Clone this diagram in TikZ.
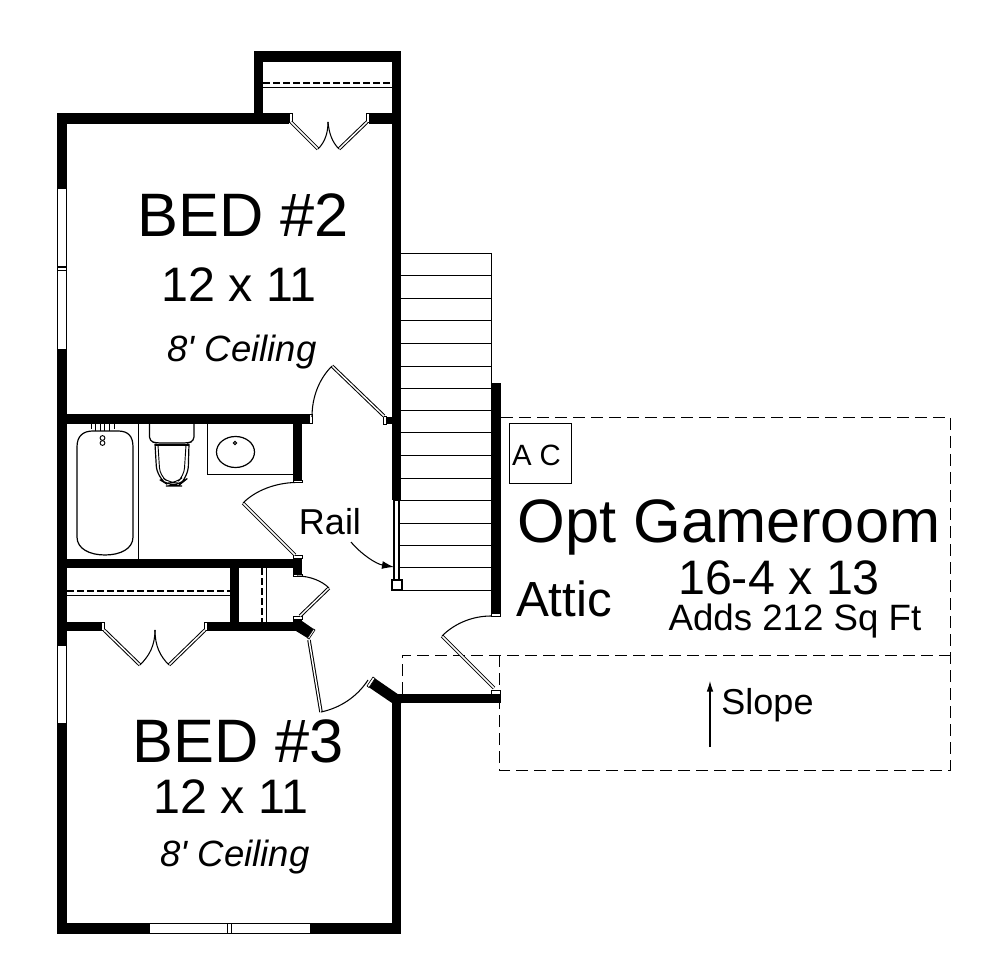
\documentclass[tikz,border=0pt]{standalone}
\usepackage{fontspec}
\newfontfamily\lib{Liberation Sans}
\setmainfont{Liberation Sans}
\usetikzlibrary{arrows.meta}
\tikzset{
 wall/.style={fill=black,draw=none},
 jamb/.style={fill=white,draw=black,line width=.5pt},
 hairline/.style={draw=black,line width=.7pt},
 fine/.style={draw=black,line width=.45pt},
 leaf/.style={draw=black,line width=2.6pt,postaction={draw=white,line width=1.1pt}},
 swing/.style={draw=black,line width=.8pt},
 dashline/.style={draw=black,line width=.7pt,dash pattern=on 9pt off 4.5pt},
 roddash/.style={draw=black,line width=.8pt,dash pattern=on 5pt off 2.5pt},
 txt/.style={inner sep=0pt,anchor=base,text=black},
}
\begin{document}
\begin{tikzpicture}[x=.75pt,y=-.75pt]
\useasboundingbox (0,0) rectangle (1000,962);
\fill[white] (0,0) rectangle (1000,962);
% dashed gameroom
\draw[dashline] (501,417) -- (950,417) -- (950,770) -- (499,770) -- (499,703);
\draw[dashline] (402,694) -- (402,655) -- (950,655);
\draw[dashline] (499,655) -- (499,690);
% stairs
\foreach \y in {253,275.5,298,320.5,343,366,388,410,432,455,478,500,523,545,567,590}{\draw[hairline] (399,\y) -- (491,\y);}
\draw[fine] (491,253) -- (491,383);
% walls
\fill[wall] (57,113) rectangle (254,124);
\fill[wall] (254,51) rectangle (263,124);
\fill[wall] (254,51) rectangle (401,62);
\fill[wall] (392,51) rectangle (401,500);
\fill[wall] (263,113) rectangle (289,124);
\fill[wall] (369,113) rectangle (392,124);
\fill[wall] (57,113) rectangle (67,934);
\fill[wall] (57,923) rectangle (401,934);
\fill[wall] (392,696) rectangle (401,934);
\fill[wall] (392,694) rectangle (501,703);
\fill[wall] (491,383) rectangle (501,613);
\fill[wall] (57,414) rectangle (309,424);
\fill[wall] (293,414) rectangle (302,480);
\fill[wall] (57,559) rectangle (302,568);
\fill[wall] (293,558) rectangle (302,576);
\fill[wall] (230,568) rectangle (239,622);
\fill[wall] (57,622) rectangle (101,631);
\fill[wall] (207,622) rectangle (302,631);
\fill[wall] (293,619) rectangle (302,631);
\fill[wall] (296,631) -- (302,621) -- (315,630) -- (309,639) -- cycle;
\fill[wall] (373,677) -- (367,686) -- (392,703) -- (402,703) -- (402,697) -- cycle;
\fill[wall] (383,417) rectangle (392,424);
% windows
\foreach \a/\b in {188/350,645/724}{\filldraw[jamb,line width=.9pt] (57.5,\a) rectangle (66.5,\b);}
\fill[wall] (57,266) rectangle (67,268);
\draw[hairline] (57,270) -- (67,270);
\filldraw[jamb,line width=.7pt] (149,923.5) rectangle (310,933);
\draw[hairline] (227,923) -- (227,933) (231,923) -- (231,933);
% jambs
\filldraw[jamb] (289,113.5) rectangle (292,122);
\filldraw[jamb] (366,113.5) rectangle (369,122);
\filldraw[jamb] (101,622.5) rectangle (104,630.5);
\filldraw[jamb] (204,622.5) rectangle (207,630.5);
\filldraw[jamb] (309,414.5) rectangle (312,423.5);
\filldraw[jamb] (383,416) rectangle (386,424);
\filldraw[jamb] (293.5,480) rectangle (302,482.5);
\filldraw[jamb] (293.5,555) rectangle (302,558);
\filldraw[jamb] (293.5,574) rectangle (302,576);
\filldraw[jamb] (293.5,616) rectangle (302,619);
\filldraw[jamb] (491.5,613) rectangle (500.5,616);
\filldraw[jamb] (491.5,690) rectangle (500.5,694);
\filldraw[jamb] (315,630) -- (309,639) -- (307.5,638) -- (313.5,629) -- cycle;
\filldraw[jamb] (373,677) -- (367,686) -- (369,687.5) -- (375,678.5) -- cycle;
% door leaves and swings
\draw[leaf] (291,122) -- (318,149);
\draw[leaf] (367,122) -- (339,149);
\draw[swing] (318,149) .. controls (325,142) and (328,133) .. (328,122);
\draw[swing] (339,149) .. controls (332,142) and (329,133) .. (328,122);
\draw[leaf] (104,630) -- (140,665);
\draw[leaf] (205,630) -- (169,665);
\draw[swing] (140,665) .. controls (149,656) and (155,646) .. (155,630);
\draw[swing] (169,665) .. controls (160,656) and (155,646) .. (155,630);
\draw[leaf] (384,416) -- (332,366);
\draw[swing] (332,366) .. controls (319,379) and (312,397) .. (312,417);
\draw[leaf] (295,555) -- (243,503);
\draw[swing] (243,503) .. controls (256,490) and (276,483) .. (295,482.5);
\draw[leaf] (300,616) -- (329,588);
\draw[swing] (329,588) .. controls (322,581) and (310,576) .. (297,576);
\draw[leaf] (309,640) -- (321,712);
\draw[swing] (321,712) .. controls (340,708) and (357,697) .. (368,680);
\draw[leaf] (494,688) -- (442,636);
\draw[swing] (442,636) .. controls (455,623) and (473,616) .. (491,616);
% closet rods
\draw[roddash] (263,83) -- (392,83);
\draw[hairline] (263,87) -- (392,87);
\draw[roddash] (67,591) -- (230,591);
\draw[hairline] (67,595) -- (230,595);
\draw[roddash] (262,568) -- (262,622);
\draw[hairline] (266,568) -- (266,622);
% rail
\filldraw[jamb,line width=.8pt] (394,500) rectangle (399,580);
\filldraw[jamb,line width=.8pt] (392,580) rectangle (402,590);
\draw[swing,-{Latex[length=9pt,width=6pt]}] (351,542) .. controls (361,554) and (376,564) .. (394,567);
% bath
\draw[hairline] (138,424) -- (138,559);
\draw[hairline,line width=.9pt] (77,447) .. controls (77,436) and (83,431) .. (93,431) -- (118,431) .. controls (128,431) and (133,436) .. (133,447) -- (133,537) .. controls (133,549) and (120,555) .. (105,555) .. controls (90,555) and (77,549) .. (77,537) -- cycle;
\draw[hairline] (91,424) -- (91,429) (95,424) -- (95,431) (100,424) -- (100,431) (104,424) -- (104,431) (109,424) -- (109,431) (114,424) -- (114,429);
\draw[hairline] (102.5,438) circle (2.4);
\draw[hairline] (102.5,443) circle (2.4);
\draw[hairline,line width=.9pt,rounded corners=3pt] (149.5,424) -- (149.5,441) -- (156,443) -- (188,443) -- (194,441) -- (194,424);
\draw[hairline,line width=.9pt,rounded corners=9pt] (155,444) -- (157,478) -- (170,486) -- (178,486) -- (188,478) -- (189,444);
\draw[hairline,rounded corners=6pt] (158,445) -- (160,476) -- (170,483) -- (176,483) -- (184,476) -- (186,445);
\draw[hairline,line width=1.4pt] (155,445) -- (189,445);
\draw[hairline] (207,424) -- (207,474) -- (293,474);
\draw[hairline,line width=.9pt] (235.5,452) ellipse (19 and 15.5);
\draw[hairline] (235,443) circle (1.6);
% AC box
\draw[hairline] (509.5,423.5) rectangle (571,483);
% texts
\node[txt,font=\fontsize{46}{46}\selectfont] (bedtwo) at (243,236.5) {BED \#2};
\node[txt,font=\fontsize{36.3}{36}\selectfont] (bedtwosize) at (239,302) {12 x 11};
\node[txt,font=\fontsize{27.4}{27}\selectfont\lib\itshape] (bedtwoceil) at (242,361.5) {8' Ceiling};
\node[txt,font=\fontsize{46}{46}\selectfont] (bedthree) at (238,762) {BED \#3};
\node[txt,font=\fontsize{36.3}{36}\selectfont] (bedthreesize) at (231,813) {12 x 11};
\node[txt,font=\fontsize{27.4}{27}\selectfont\lib\itshape] (bedthreeceil) at (235,866) {8' Ceiling};
\node[txt,font=\fontsize{27}{27}\selectfont] (rail) at (330,534.5) {Rail};
\node[txt,font=\fontsize{22}{22}\selectfont] (ac) at (536.5,466) {A C};
\node[txt,font=\fontsize{46}{46}\selectfont] (game) at (729,542) {Opt Gameroom};
\node[txt,font=\fontsize{36.3}{36}\selectfont] (gamesize) at (779,594) {16-4 x 13};
\node[txt,font=\fontsize{27.5}{27}\selectfont] (adds) at (795,630.5) {Adds 212 Sq Ft};
\node[txt,font=\fontsize{37}{37}\selectfont] (attic) at (564,616.5) {Attic};
\node[txt,font=\fontsize{27}{27}\selectfont] (slope) at (767.5,714) {Slope};
\coordinate (slopetail) at (710,747);
\coordinate (slopehead) at (710,681);
\draw[swing,-{Latex[length=8pt,width=5pt]}] (slopetail) -- (slopehead);
\end{tikzpicture}
\end{document}
